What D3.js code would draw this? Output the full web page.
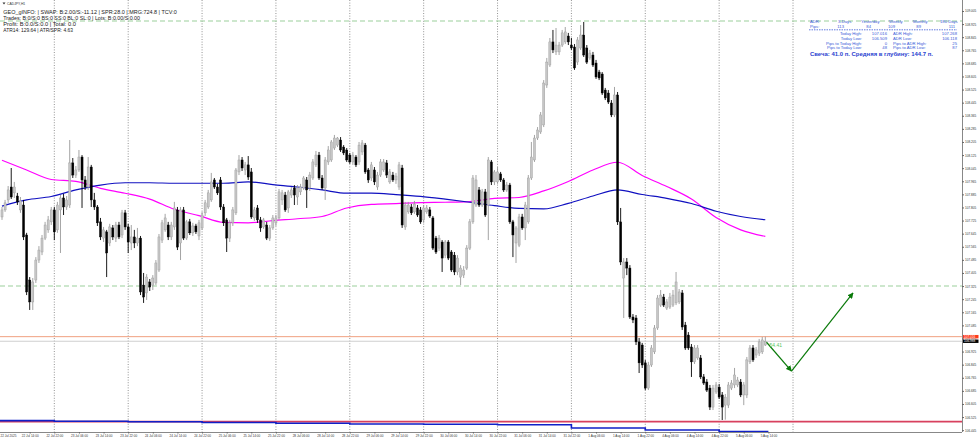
<!DOCTYPE html>
<html><head><meta charset="utf-8">
<script src="https://cdn.jsdelivr.net/npm/d3@7"></script>
<style>body{margin:0;background:#fff;}svg{display:block;font-family:"Liberation Sans",Arial,sans-serif;}</style>
</head><body>
<svg id="chart" width="980" height="439"></svg>
<script>
// ---------- DATA (CADJPY H1, bar 0 = 22 Jul 05:00) ----------
const opens = [
107.747,107.790,107.851,107.930,107.894,107.875,107.790,107.820,107.637,107.362,
107.228,107.362,107.484,107.533,107.618,107.668,107.717,107.790,107.668,107.790,
107.863,107.808,107.820,108.077,108.003,108.034,108.113,107.973,107.930,108.052,
107.851,107.808,107.717,107.618,107.656,107.588,107.680,107.618,107.698,107.637,
107.772,107.686,107.588,107.625,107.588,107.618,107.331,107.283,107.350,107.331,
107.344,107.423,107.606,107.668,107.698,107.625,107.686,107.790,107.588,107.790,
107.618,107.717,107.650,107.692,107.631,107.680,107.772,107.808,107.851,107.973,
107.930,107.973,107.808,107.729,107.618,107.711,107.772,108.022,108.095,108.034,
108.065,108.022,107.741,107.802,107.729,107.686,107.698,107.618,107.680,107.711,
107.741,107.851,107.881,107.802,107.881,107.924,107.869,107.900,107.924,107.973,
107.924,107.985,108.065,108.125,107.985,107.924,108.083,108.095,108.168,108.186,
108.217,108.174,108.156,108.125,108.083,108.113,108.083,108.144,108.186,108.034,
107.985,108.034,107.930,108.003,108.034,108.077,107.961,108.003,107.973,107.930,
108.046,107.686,107.778,107.808,107.778,107.802,107.790,107.729,107.778,107.790,
107.741,107.618,107.557,107.594,107.514,107.594,107.533,107.514,107.411,107.380,
107.392,107.435,107.557,107.717,107.820,107.912,107.820,107.900,107.820,108.083,
107.961,107.961,108.010,107.973,107.912,107.942,107.717,107.588,107.575,107.747,
107.680,107.717,107.985,108.095,108.229,108.266,108.309,108.553,108.675,108.816,
108.755,108.755,108.797,108.816,108.852,108.797,108.785,108.693,108.779,108.858,
108.779,108.718,108.736,108.687,108.632,108.620,108.522,108.504,108.443,108.370,
108.492,107.717,107.374,107.472,107.435,107.136,107.130,106.984,106.965,106.856,
106.702,106.843,106.923,107.069,107.209,107.258,107.191,107.197,107.209,107.222,
107.228,107.283,107.087,107.026,106.953,106.862,106.886,106.886,106.770,106.739,
106.702,106.586,106.678,106.708,106.660,106.598,106.598,106.702,106.721,106.721,
106.739,106.660,106.660,106.862,106.947,106.904,106.916,106.923,106.965];
const highs = [
107.808,107.851,107.936,108.046,107.961,107.894,107.869,107.851,107.650,107.380,
107.374,107.502,107.569,107.637,107.717,107.753,107.808,107.808,107.839,107.881,
107.888,107.875,108.217,108.107,108.058,108.156,108.125,107.997,108.113,108.065,
107.894,107.820,107.741,107.686,107.668,107.705,107.698,107.717,107.717,107.790,
107.790,107.705,107.698,107.668,107.680,107.631,107.405,107.398,107.368,107.392,
107.484,107.643,107.729,107.766,107.717,107.717,107.839,107.808,107.808,107.808,
107.729,107.735,107.711,107.705,107.729,107.778,107.851,107.912,108.016,107.985,
107.949,107.991,107.826,107.741,107.729,107.808,108.046,108.125,108.113,108.083,
108.119,108.046,107.808,107.820,107.747,107.741,107.717,107.698,107.759,107.759,
107.918,107.912,107.900,107.912,107.930,107.942,107.942,107.949,107.997,107.991,
108.022,108.101,108.150,108.144,108.003,108.113,108.180,108.217,108.248,108.235,
108.235,108.186,108.168,108.138,108.144,108.125,108.205,108.217,108.199,108.046,
108.083,108.052,108.022,108.101,108.101,108.095,108.040,108.022,108.016,108.083,
108.065,107.839,107.839,107.826,107.845,107.820,107.808,107.820,107.820,107.808,
107.753,107.631,107.637,107.606,107.606,107.606,107.545,107.533,107.514,107.453,
107.447,107.575,107.735,108.003,108.003,107.930,107.918,107.918,108.113,108.095,
108.034,108.052,108.022,107.985,107.961,107.955,107.729,107.692,107.766,107.766,
107.839,108.003,108.205,108.248,108.296,108.388,108.583,108.718,108.840,108.889,
108.901,108.816,108.889,108.907,108.871,108.840,108.803,108.846,108.919,108.938,
108.797,108.767,108.755,108.706,108.645,108.632,108.535,108.522,108.461,108.541,
108.510,107.802,107.496,107.496,107.453,107.154,107.148,107.008,106.978,106.874,
106.862,106.965,107.087,107.270,107.301,107.277,107.246,107.283,107.301,107.411,
107.307,107.301,107.106,107.044,106.971,106.965,106.965,106.904,106.788,106.757,
106.721,106.721,106.739,106.727,106.678,106.666,106.739,106.751,106.825,106.770,
106.757,106.739,106.892,106.965,106.965,106.953,107.002,107.014,107.016];
const lows = [
107.729,107.778,107.833,107.857,107.863,107.820,107.772,107.606,107.270,107.179,
107.179,107.344,107.466,107.514,107.606,107.650,107.698,107.606,107.650,107.527,
107.759,107.790,107.802,107.985,107.985,108.022,107.802,107.912,107.912,107.808,
107.790,107.692,107.606,107.594,107.380,107.569,107.606,107.594,107.612,107.618,
107.668,107.527,107.545,107.557,107.569,107.270,107.222,107.240,107.295,107.301,
107.331,107.411,107.588,107.656,107.606,107.606,107.668,107.545,107.484,107.606,
107.606,107.637,107.631,107.643,107.606,107.668,107.753,107.796,107.839,107.918,
107.881,107.790,107.692,107.533,107.594,107.692,107.759,108.003,108.028,108.003,
107.973,107.735,107.723,107.711,107.656,107.674,107.606,107.600,107.668,107.692,
107.729,107.820,107.778,107.772,107.863,107.820,107.820,107.881,107.912,107.802,
107.906,107.973,108.052,107.973,107.912,107.851,108.065,108.083,108.156,108.174,
108.144,108.125,108.083,108.071,108.065,108.052,108.065,108.125,108.010,107.955,
107.967,107.942,107.912,107.991,108.022,107.985,107.949,107.961,107.949,107.912,
107.680,107.668,107.766,107.759,107.766,107.747,107.705,107.711,107.766,107.741,
107.545,107.521,107.539,107.411,107.496,107.484,107.411,107.392,107.392,107.331,
107.374,107.423,107.545,107.705,107.808,107.808,107.808,107.747,107.606,107.942,
107.942,107.949,107.961,107.900,107.900,107.705,107.502,107.466,107.563,107.668,
107.606,107.705,107.973,108.083,108.217,108.254,108.296,108.535,108.663,108.748,
108.736,108.736,108.785,108.803,108.797,108.767,108.645,108.675,108.767,108.724,
108.681,108.706,108.663,108.590,108.583,108.492,108.461,108.437,108.357,108.357,
107.698,107.453,107.130,107.392,107.124,107.099,106.965,106.794,106.825,106.690,
106.690,106.831,106.910,107.057,107.197,107.197,107.179,107.185,107.197,107.209,
107.215,107.057,106.935,106.935,106.770,106.849,106.874,106.757,106.721,106.678,
106.568,106.568,106.666,106.635,106.507,106.509,106.580,106.690,106.702,106.708,
106.647,106.598,106.641,106.849,106.862,106.886,106.898,106.910,106.959];
const closes = [
107.790,107.833,107.912,107.869,107.930,107.839,107.845,107.625,107.289,107.228,
107.350,107.484,107.545,107.618,107.698,107.729,107.790,107.656,107.820,107.863,
107.808,107.851,108.077,108.003,108.034,108.113,107.973,107.930,108.052,107.851,
107.808,107.711,107.625,107.668,107.527,107.686,107.625,107.698,107.625,107.772,
107.686,107.594,107.625,107.588,107.618,107.289,107.258,107.380,107.319,107.374,
107.466,107.625,107.711,107.741,107.625,107.698,107.802,107.563,107.790,107.618,
107.717,107.650,107.692,107.656,107.711,107.759,107.833,107.894,107.961,107.930,
107.894,107.808,107.711,107.618,107.711,107.790,108.034,108.095,108.046,108.065,
107.991,107.747,107.790,107.729,107.680,107.729,107.618,107.680,107.741,107.741,
107.900,107.894,107.790,107.900,107.912,107.881,107.924,107.930,107.985,107.912,
108.003,108.083,108.125,107.985,107.924,108.095,108.156,108.205,108.229,108.229,
108.156,108.138,108.095,108.083,108.125,108.065,108.186,108.199,108.022,107.973,
108.065,107.961,108.003,108.083,108.083,108.003,108.022,107.973,107.997,108.065,
107.698,107.820,107.820,107.772,107.826,107.759,107.717,107.802,107.802,107.753,
107.557,107.533,107.618,107.496,107.594,107.496,107.423,107.411,107.496,107.435,
107.423,107.557,107.717,107.985,107.973,107.820,107.900,107.759,108.095,107.961,
108.022,108.022,107.973,107.912,107.942,107.717,107.637,107.680,107.747,107.680,
107.820,107.985,108.113,108.229,108.278,108.370,108.565,108.693,108.816,108.767,
108.797,108.797,108.871,108.877,108.816,108.779,108.657,108.828,108.858,108.736,
108.693,108.748,108.675,108.602,108.596,108.504,108.474,108.449,108.370,108.492,
107.717,107.472,107.472,107.435,107.136,107.118,106.984,106.856,106.843,106.702,
106.843,106.947,107.069,107.252,107.270,107.209,107.228,107.258,107.270,107.350,
107.289,107.075,106.947,106.947,106.862,106.947,106.947,106.770,106.733,106.690,
106.586,106.702,106.721,106.647,106.586,106.647,106.721,106.733,106.782,106.751,
106.660,106.721,106.874,106.947,106.874,106.935,106.984,106.996,106.988];

// moving averages, read every 8 bars
const maBars = [0,8,16,24,32,40,48,56,64,72,80,88,96,104,112,120,128,136,144,152,160,168,176,184,192,200,208,216,224,232,240,248];
const maMagenta = [108.093,108.034,107.976,107.964,107.922,107.892,107.856,107.794,107.755,107.714,107.711,107.725,107.736,107.750,107.802,107.824,107.829,107.835,107.837,107.841,107.860,107.866,107.906,107.964,108.034,108.081,108.000,107.933,107.857,107.744,107.668,107.628];
const maBlue = [107.813,107.851,107.872,107.912,107.942,107.956,107.956,107.953,107.953,107.953,107.961,107.945,107.930,107.912,107.892,107.892,107.884,107.873,107.856,107.837,107.816,107.799,107.796,107.830,107.875,107.912,107.884,107.861,107.829,107.782,107.750,107.730];

// bottom indicator lines
const lowBlueStart = [-1,17,41,65,89,113,137,161,185,209,233,249];
const lowBlueLevel = [106.503,106.499,106.496,106.492,106.487,106.483,106.481,106.478,106.458,106.446,106.437,106.437];
const lowRedLevel = 106.497;

// levels
const dashedLevels = [108.944, 107.325];
const askPrice = 107.016, bidPrice = 106.988;

// projection arrow
const arrowBars = [248.4, 256.5, 276.5];
const arrowPrices = [106.982, 106.806, 107.283];
const arrowLabel = "54.41";

// axes
const priceTicks = [109.005,108.925,108.845,108.765,108.685,108.605,108.525,108.445,108.365,108.285,108.205,108.125,108.045,107.965,107.885,107.805,107.725,107.645,107.565,107.485,107.405,107.325,107.245,107.165,107.085,107.005,106.925,106.845,106.765,106.685,106.605,106.525,106.445];
const timeTickBars = [9,17,25,33,41,49,57,65,73,81,89,97,105,113,121,129,137,145,153,161,169,177,185,193,201,209,217,225,233,241,249];
const timeTickLabels = ["22 Jul 14:00","22 Jul 22:00","23 Jul 06:00","23 Jul 14:00","23 Jul 22:00","24 Jul 06:00","24 Jul 14:00","24 Jul 22:00","25 Jul 06:00","25 Jul 14:00","25 Jul 22:00","28 Jul 06:00","28 Jul 14:00","28 Jul 22:00","29 Jul 06:00","29 Jul 14:00","29 Jul 22:00","30 Jul 06:00","30 Jul 14:00","30 Jul 22:00","31 Jul 06:00","31 Jul 14:00","31 Jul 22:00","1 Aug 06:00","1 Aug 14:00","1 Aug 22:00","4 Aug 06:00","4 Aug 14:00","4 Aug 22:00","5 Aug 06:00","5 Aug 14:00"];
const firstTimeLabel = "22 Jul 2025";
const daySeparatorBars = [17,41,65,89,113,137,161,185,209,233,257];

// info texts
const infoLines = ["GEO_gINFO: | SWAP: B:2.00/S:-11.12 | SPR:28.0 | MRG:724.8 | TCV:0",
  "Trades: B:0/S:0 BS:0 SS:0 BL:0 SL:0 | Lots: B:0.00/S:0.00",
  "Profit: B:0.0/S:0.0 | Total: 0.0",
  "ATR14: 129.64 | ATR/SPR: 4.63"];
const adrHeaders = ["ADR:","3-Days","Yesterday","Weekly","Monthly","180 Days"];
const adrPips = ["Pips:","113","84","109","89","111"];
const statLeft = [["Today High:","107.016"],["Today Low:","106.509"],["Pips to Today High:","0"],["Pips to Today Low:","48"]];
const statRight = [["ADR High:","107.268"],["ADR Low:","106.118"],["Pips to ADR High:","25"],["Pips to ADR Low:","87"]];
const candleLine = "Свеча: 41.0 п. Средняя в глубину: 144.7 п.";

// ---------- DRAW ----------
const svg = d3.select("#chart");
const W = 962, H = 432;
const x = d3.scaleLinear().domain([0, 312]).range([2, 962.3]);
const y = d3.scaleLinear().domain([106.4338, 109.072]).range([H, 0]);

svg.append("defs").append("clipPath").attr("id","plot")
  .append("rect").attr("x",0).attr("y",0).attr("width",W).attr("height",H);
const g = svg.append("g").attr("clip-path","url(#plot)");

// day separators
g.selectAll("line.sep").data(daySeparatorBars).join("line")
  .attr("x1",d=>x(d)).attr("x2",d=>x(d)).attr("y1",0).attr("y2",H)
  .attr("stroke","#777").attr("stroke-width",0.8).attr("stroke-dasharray","1,1.6");

// dashed green levels
g.selectAll("line.lvl").data(dashedLevels).join("line")
  .attr("x1",0).attr("x2",W).attr("y1",d=>y(d)).attr("y2",d=>y(d))
  .attr("stroke","#9bcf9b").attr("stroke-width",1.1).attr("stroke-dasharray","5,3");

// bid / ask lines
g.append("line").attr("x1",0).attr("x2",W).attr("y1",y(bidPrice)).attr("y2",y(bidPrice))
  .attr("stroke","#cfcfcf").attr("stroke-width",1);
g.append("line").attr("x1",0).attr("x2",W).attr("y1",y(askPrice)).attr("y2",y(askPrice))
  .attr("stroke","#f0a080").attr("stroke-width",1);

// bottom lines
g.append("line").attr("x1",0).attr("x2",W).attr("y1",y(lowRedLevel)).attr("y2",y(lowRedLevel))
  .attr("stroke","#d8405e").attr("stroke-width",1.6);
const stepData = lowBlueStart.map((b,i)=>({b, v: lowBlueLevel[i]}));
g.append("path").datum(stepData)
  .attr("d", d3.line().x(d=>x(d.b)).y(d=>y(d.v)).curve(d3.curveStepAfter))
  .attr("fill","none").attr("stroke","#1020c8").attr("stroke-width",1.6);

// moving averages
const maLine = d3.line().x((d,i)=>x(maBars[i])).y(d=>y(d)).curve(d3.curveMonotoneX);
g.append("path").datum(maMagenta).attr("d",maLine).attr("fill","none")
  .attr("stroke","#ff00ff").attr("stroke-width",1.2);
g.append("path").datum(maBlue).attr("d",maLine).attr("fill","none")
  .attr("stroke","#1010c0").attr("stroke-width",1.2);

// candles
const bars = closes.map((c,i)=>({i,o:opens[i],h:Math.max(highs[i],opens[i],c),l:Math.min(lows[i],opens[i],c),c}));
const bw = 2.1;
const cg = g.append("g");
cg.selectAll("line.w").data(bars).join("line")
  .attr("x1",d=>x(d.i)).attr("x2",d=>x(d.i)).attr("y1",d=>y(d.h)).attr("y2",d=>y(d.l))
  .attr("stroke",d=>d.c>=d.o?"#9a9a9a":"#000").attr("stroke-width",0.9);
cg.selectAll("rect.b").data(bars).join("rect")
  .attr("x",d=>x(d.i)-bw/2).attr("width",bw)
  .attr("y",d=>y(Math.max(d.o,d.c))).attr("height",d=>Math.max(0.8,Math.abs(y(d.o)-y(d.c))))
  .attr("fill",d=>d.c>=d.o?"#c6c6c6":"#000")
  .attr("stroke",d=>d.c>=d.o?"#9a9a9a":"#000").attr("stroke-width",0.4);

// arrows
const defs = svg.select("defs");
defs.append("marker").attr("id","ah").attr("viewBox","0 0 10 10").attr("refX",9).attr("refY",5)
  .attr("markerWidth",5).attr("markerHeight",5).attr("orient","auto")
  .append("path").attr("d","M0,0L10,5L0,10z").attr("fill","#0a7a0a");
for (let k=0;k<arrowBars.length-1;k++){
  g.append("line").attr("x1",x(arrowBars[k])).attr("y1",y(arrowPrices[k]))
    .attr("x2",x(arrowBars[k+1])).attr("y2",y(arrowPrices[k+1]))
    .attr("stroke","#0a7a0a").attr("stroke-width",1.2).attr("marker-end","url(#ah)");
}
g.append("text").attr("x",x(arrowBars[0])+3).attr("y",y(arrowPrices[0])+4.5)
  .attr("font-size",5).attr("fill","#5cc65c").text(arrowLabel);

// axes
const yAxis = d3.axisRight(y).tickValues(priceTicks).tickFormat(d3.format(".3f")).tickSize(2).tickPadding(1);
const ya = svg.append("g").attr("transform",`translate(${W},0)`).call(yAxis);
ya.select(".domain").attr("stroke","#888").attr("d",`M0.5,0V${H}`);
ya.selectAll("text").attr("font-size",3.1).attr("fill","#333").attr("font-family","Liberation Sans, Arial");
ya.selectAll("line").attr("stroke","#666");

const xAxis = d3.axisBottom(x).tickValues(timeTickBars).tickFormat((d,i)=>timeTickLabels[i]).tickSize(1.5).tickPadding(1);
const xa = svg.append("g").attr("transform",`translate(0,${H})`).call(xAxis);
xa.select(".domain").attr("stroke","#888").attr("d",`M0,0.5H${W}`);
xa.selectAll("text").attr("font-size",3.1).attr("fill","#333").attr("font-family","Liberation Sans, Arial");
xa.selectAll("line").attr("stroke","#666");
svg.append("text").attr("x",0.5).attr("y",H+5).attr("font-size",3.1).attr("fill","#333").text(firstTimeLabel);

// current price labels
const plab = [{p:askPrice,bg:"#ff3a1a"},{p:bidPrice,bg:"#000"}];
plab.forEach(d=>{
  svg.append("rect").attr("x",W+1).attr("y",y(d.p)-1.7).attr("width",15.5).attr("height",3.4).attr("fill",d.bg);
  svg.append("text").attr("x",W+2).attr("y",y(d.p)+1.1).attr("font-size",3.1).attr("fill","#fff").text(d3.format(".3f")(d.p));
});

// title
svg.append("path").attr("d","M2.5,2.5h3l-1.5,2z").attr("fill","#333");
svg.append("text").attr("x",7).attr("y",4.8).attr("font-size",3.4).attr("fill","#333").text("CADJPY,H1");

// info lines
const infoW = [173.4,136.7,72.7,69.7];
infoLines.forEach((t,k)=>{
  svg.append("text").attr("x",3.3).attr("y",13.6+k*6.05).attr("font-size",5.2).attr("fill","#1a1a1a")
    .attr("textLength",infoW[k]).attr("lengthAdjust","spacingAndGlyphs").text(t);
});

// ADR table
const tc = "#3a5ad8";
const hx = [810,838,861,889,913,940];
adrHeaders.forEach((t,k)=>svg.append("text").attr("x",hx[k]).attr("y",23).attr("font-size",4.2).attr("fill",tc).text(t));
const px = [810,844,871,895,921,955];
adrPips.forEach((t,k)=>svg.append("text").attr("x",px[k]).attr("y",27.6).attr("font-size",4.2).attr("fill",tc)
  .attr("text-anchor",k===0?"start":"end").text(t));
svg.append("line").attr("x1",809).attr("x2",957).attr("y1",29.8).attr("y2",29.8).attr("stroke",tc).attr("stroke-width",0.8).attr("stroke-dasharray","1.5,1");
statLeft.forEach((r,k)=>{
  const yy = 35.4 + k*4.55;
  svg.append("text").attr("x",862).attr("y",yy).attr("font-size",4.2).attr("fill",tc).attr("text-anchor","end").text(r[0]);
  svg.append("text").attr("x",887).attr("y",yy).attr("font-size",4.2).attr("fill",tc).attr("text-anchor","end").text(r[1]);
  svg.append("text").attr("x",893).attr("y",yy).attr("font-size",4.2).attr("fill",tc).text(statRight[k][0]);
  svg.append("text").attr("x",957).attr("y",yy).attr("font-size",4.2).attr("fill",tc).attr("text-anchor","end").text(statRight[k][1]);
});
svg.append("text").attr("x",810).attr("y",55.8).attr("font-size",4.6).attr("font-weight","bold").attr("fill","#2a3fd0")
  .attr("textLength",123).attr("lengthAdjust","spacingAndGlyphs").text(candleLine);
</script>
</body></html>
